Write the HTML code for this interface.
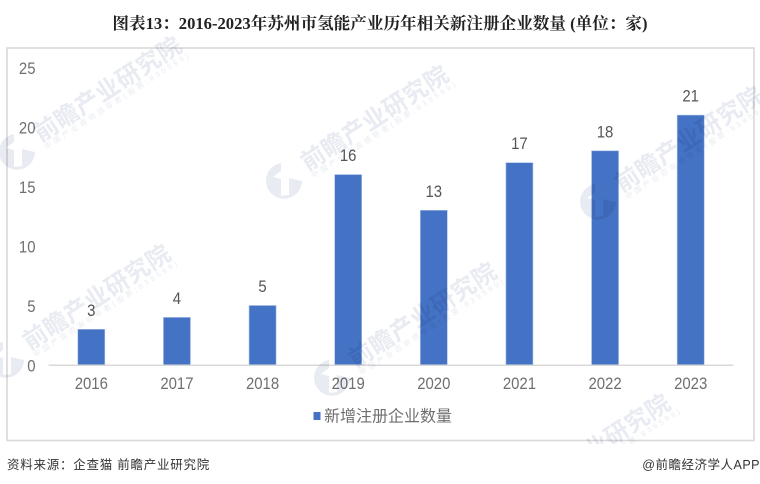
<!DOCTYPE html>
<html>
<head>
<meta charset="utf-8">
<style>
html,body{margin:0;padding:0;background:#fff;}
body{width:760px;height:484px;overflow:hidden;position:relative;font-family:"Liberation Sans","Noto Sans CJK SC",sans-serif;}
#title{position:absolute;left:0;top:10px;width:760px;text-align:center;font:bold 16.6px "Liberation Serif","Noto Serif CJK SC",serif;color:#222;white-space:nowrap;}
#source{position:absolute;left:7px;top:454px;font-size:12.5px;color:#333;letter-spacing:.75px;white-space:nowrap;}
#credit{position:absolute;right:0;top:454px;font-size:12.5px;color:#333;letter-spacing:.5px;white-space:nowrap;}
svg{position:absolute;left:0;top:0;overflow:hidden;}
.wm{mix-blend-mode:multiply;}
</style>
</head>
<body>
<div id="title">图表13：2016-2023年苏州市氢能产业历年相关新注册企业数量 (单位：家)</div>
<svg id="chart" width="760" height="484"></svg>
<div id="source">资料来源：企查猫 前瞻产业研究院</div>
<div id="credit">@前瞻经济学人APP</div>
<script>
const categories = ['2016','2017','2018','2019','2020','2021','2022','2023'];
const seriesValues = [3,4,5,16,13,17,18,21];
const yTickLabels = [0,5,10,15,20,25];
const seriesName = '新增注册企业数量';

const NS = 'http://www.w3.org/2000/svg';
const svg = document.getElementById('chart');
const font = '"Liberation Sans","Noto Sans CJK SC",sans-serif';
function make(tag, attrs, text){
  const e = document.createElementNS(NS, tag);
  for (const k in attrs) e.setAttribute(k, attrs[k]);
  if (text !== undefined) e.textContent = text;
  svg.appendChild(e);
  return e;
}
const plot = {left:48.5, right:733.5, base:365, top:67.5, max:25};
const digitWidth = 8.3;
function yScale(v){ return plot.base - (v / plot.max) * (plot.base - plot.top); }
function xScale(i){ return plot.left + (i + 0.5) * (plot.right - plot.left) / categories.length; }
function numAttrs(x, y, anchor, str, fill){
  return {x:x,y:y,'text-anchor':anchor,'font-size':16.5,'font-family':font,fill:fill,
          textLength:str.length*digitWidth,lengthAdjust:'spacingAndGlyphs'};
}

const frame = make('rect',{x:7,y:48,width:747,height:392.5,fill:'#fff',stroke:'#d9d9d9','stroke-width':1.6});



yTickLabels.forEach(function(t){
  const s = String(t);
  const el = make('text',numAttrs(35.5,yScale(t)+6.3,'end',s,'#6f6f6f'),s);
  
  
});

const barWidth = 27;
seriesValues.forEach(function(v,i){
  const y = yScale(v);
  const bar = make('rect',{x:xScale(i)-barWidth/2,y:y,width:barWidth,height:plot.base-y,fill:'#4472c4',stroke:'#a9bfe6','stroke-width':0.6});
  
  
  const s = String(v);
  const lab = make('text',numAttrs(xScale(i),y-13.5,'middle',s,'#555'),s);
  
  
  const tick = make('text',numAttrs(xScale(i),389,'middle',categories[i],'#6f6f6f'),categories[i]);
  
  
});

const axis = make('line',{x1:plot.left,x2:plot.right,y1:plot.base+0.3,y2:plot.base+0.3,stroke:'#d9d9d9','stroke-width':1.5});



const swatch = make('rect',{x:313.5,y:412,width:7,height:8,fill:'#4472c4'});


const legendText = make('text',{x:324,y:421.5,'font-size':16,'font-family':font,fill:'#6f6f6f'},seriesName);



/* watermarks: logo disc plus rotated brand text (multiply-blended so they darken the bars) */
const wmFill = '#e8ebf1';
function watermark(x, y, main, sub, subLen, showLogo, textX, subX){
  const g = make('g',{transform:'translate('+x+','+y+') rotate(-33)','class':'wm'});
  
  
  if (showLogo){
    const p = document.createElementNS(NS,'path');
    p.setAttribute('d','M-3 -18 A18 18 0 1 0 18 0 L5 -3 L5 14 L-3 15 L-3 -2 L-11 -4 L-3 -10 Z');
    p.setAttribute('fill',wmFill);
    p.setAttribute('transform','rotate(33)');
    g.appendChild(p);
  }
  const t = document.createElementNS(NS,'text');
  t.setAttribute('x',textX); t.setAttribute('y',5);
  t.setAttribute('font-size',24); t.setAttribute('letter-spacing','0.4');
  t.setAttribute('font-weight','bold');
  t.setAttribute('font-family',font); t.setAttribute('fill',wmFill);
  t.textContent = main;
  g.appendChild(t);
  const s = document.createElementNS(NS,'text');
  s.setAttribute('x',subX); s.setAttribute('y',14);
  s.setAttribute('font-size',7.5);
  s.setAttribute('textLength',subLen); s.setAttribute('lengthAdjust','spacing');
  s.setAttribute('font-family',font); s.setAttribute('fill',wmFill);
  s.textContent = sub;
  g.appendChild(s);
}
const fullMain = '前瞻产业研究院';
const fullSub = '中国产业咨询领导者(股票:839599)';
[[17,152],[284,181],[6,360],[332,378],[598,202]].forEach(function(m){
  watermark(m[0],m[1],fullMain,fullSub,170,true,25,26);
});
/* bottom watermark is cut off by the frame: only its tail is visible */
watermark(588,456,'业研究院','(股票:839599)',75,false,0,26);

const mask = make('rect',{x:0,y:444,width:760,height:40,fill:'#fff'});


</script>
</body>
</html>
